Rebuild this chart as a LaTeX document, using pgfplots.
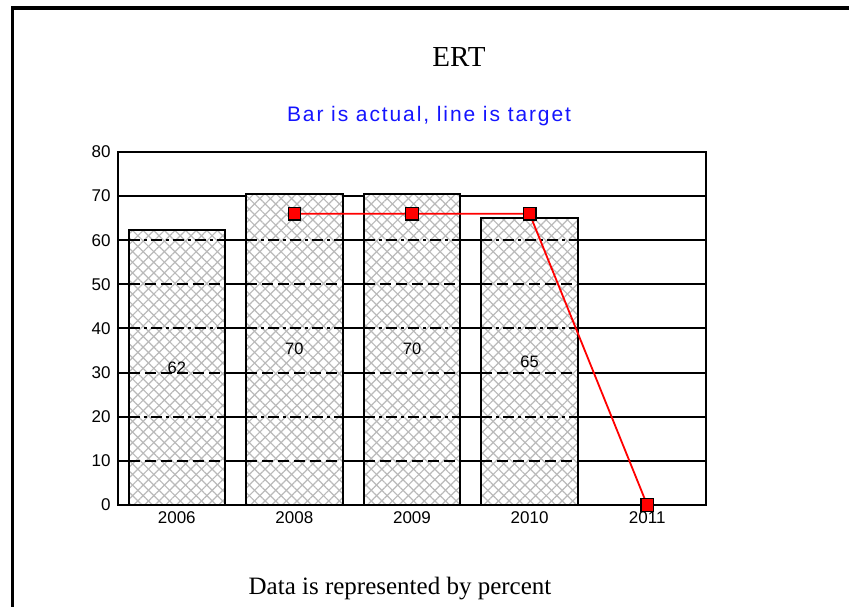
\documentclass[border=0pt]{standalone}
\usepackage{fontspec}
\setmainfont{Liberation Serif}
\newfontfamily\sansf{Liberation Sans}
\newfontfamily\sansfsp[LetterSpace=9]{Liberation Sans}
\usepackage{pgfplots}
\pgfplotsset{compat=1.18}
\usetikzlibrary{patterns.meta}
\definecolor{subblue}{RGB}{20,20,255}
\begin{document}
\begin{tikzpicture}[x=1pt,y=1pt]
\useasboundingbox (0,0) rectangle (849,607);
\draw[line width=3.2pt, line cap=rect] (12.5,-5) -- (12.5,599) -- (860,599);
\node[anchor=base, inner sep=0] at (459,540) {\fontsize{29}{29}\selectfont ERT};
\node[anchor=base, inner sep=0, text=subblue] at (429,485) {\sansfsp\fontsize{21}{21}\selectfont Bar is actual, line is target};
\node[anchor=base, inner sep=0] at (400,12) {\fontsize{25}{25}\selectfont Data is represented by percent};
\begin{axis}[
  at={(118pt,102pt)}, anchor=south west,
  scale only axis, width=588pt, height=353pt,
  xmin=-0.5, xmax=4.5, ymin=0, ymax=80,
  xtick={0,1,2,3,4}, xticklabels={2006,2008,2009,2010,2011},
  ytick={0,10,...,80},
  major tick length=0pt,
  ymajorgrids, major grid style={black, line width=2pt},
  axis line style={line width=2pt},
  tick label style={font=\sansf\fontsize{17}{17}\selectfont},
  /pgf/number format/assume math mode=true,
  yticklabel style={xshift=-4pt},
  xticklabel style={yshift=-3.5pt},
  clip=false,
]
\addplot[ybar, bar width=0.82, draw=black, line width=1.9pt, fill=white,
  postaction={pattern={Lines[angle=45,distance=7.5pt,line width=1.2pt]}, pattern color=black!27},
  postaction={pattern={Lines[angle=-45,distance=7.5pt,line width=1.2pt]}, pattern color=black!27}]
  coordinates {(0,62.4) (1,70.4) (2,70.4) (3,65.1)};
% dashed grid lines seen through the bars
\addplot[black, line width=2pt, dash pattern=on 11pt off 5pt, unbounded coords=jump, mark=none]
  coordinates {(-0.41,10) (0.41,10) (0,nan) (-0.41,30) (0.41,30) (0,nan) (-0.41,50) (0.41,50) (0,nan)
               (0.59,10) (1.41,10) (1,nan) (0.59,30) (1.41,30) (1,nan) (0.59,50) (1.41,50) (1,nan)
               (1.59,10) (2.41,10) (2,nan) (1.59,30) (2.41,30) (2,nan) (1.59,50) (2.41,50) (2,nan)
               (2.59,10) (3.41,10) (3,nan) (2.59,30) (3.41,30) (3,nan) (2.59,50) (3.41,50)};
\addplot[black, line width=2pt, dash pattern=on 11pt off 4pt on 3pt off 4pt, unbounded coords=jump, mark=none]
  coordinates {(-0.41,20) (0.41,20) (0,nan) (-0.41,40) (0.41,40) (0,nan) (-0.41,60) (0.41,60) (0,nan)
               (0.59,20) (1.41,20) (1,nan) (0.59,40) (1.41,40) (1,nan) (0.59,60) (1.41,60) (1,nan)
               (1.59,20) (2.41,20) (2,nan) (1.59,40) (2.41,40) (2,nan) (1.59,60) (2.41,60) (2,nan)
               (2.59,20) (3.41,20) (3,nan) (2.59,40) (3.41,40) (3,nan) (2.59,60) (3.41,60)};
% value labels inside bars
\addplot[draw=none, mark=none, nodes near coords, point meta=explicit symbolic,
  nodes near coords align={center},
  every node near coord/.append style={font=\sansf\fontsize{16.5}{16.5}\selectfont, anchor=center}]
  coordinates {(0,31.1)[62] (1,35.4)[70] (2,35.4)[70] (3,32.4)[65]};
% target line
\addplot[red, line width=1.8pt, mark=square*, mark size=6.3pt,
  mark options={fill=red, draw=black, line width=1.2pt}]
  coordinates {(1,66) (2,66) (3,66) (4,0)};
\end{axis}
\end{tikzpicture}
\end{document}
